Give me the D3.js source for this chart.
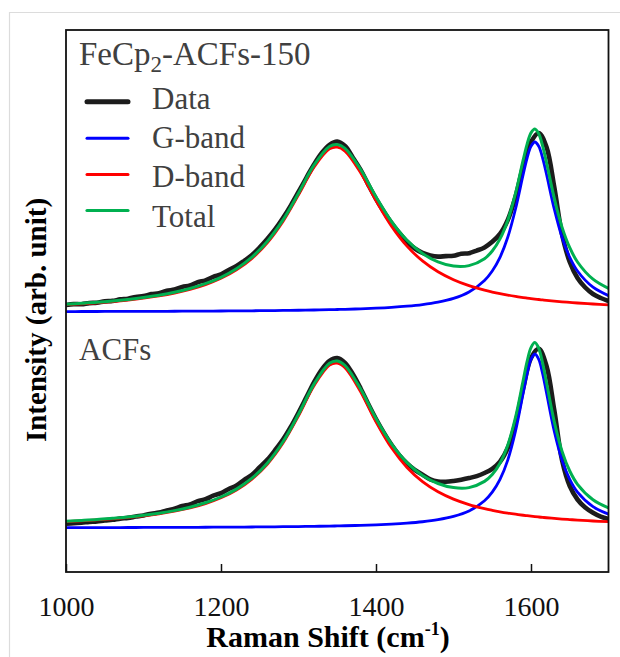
<!DOCTYPE html>
<html>
<head>
<meta charset="utf-8">
<script src="https://cdn.jsdelivr.net/npm/d3@7"></script>
<style>
  html,body{margin:0;padding:0;background:#fff;}
  svg{display:block;font-family:"Liberation Serif","Times New Roman",serif;}
</style>
</head>
<body>
<div id="chart"></div>
<script>
// Raman spectra, FeCp2-ACFs-150 (top, offset) vs ACFs (bottom), with Lorentzian D/G fits

// x grid of the measured spectra (cm-1)
const X_DATA = [1000,1010,1020,1030,1040,1050,1060,1070,1080,1090,1100,1110,1120,1130,1140,1150,1160,1170,1180,1190,
  1200,1210,1220,1230,1240,1250,1260,1270,1280,1290,1300,1310,1320,1330,1340,1350,1360,1370,1380,1390,
  1400,1410,1420,1430,1440,1450,1460,1470,1480,1490,1500,1510,1520,1530,1540,1550,1560,1570,1580,1590,
  1600,1610,1620,1630,1640,1650,1660,1670,1680,1690,1700];
// x grid of the fitted curves (cm-1)
const X_FIT = [1000,1020,1040,1060,1080,1100,1120,1140,1160,1180,1200,1220,1240,1260,1280,1300,1320,1340,1350,1360,
  1380,1400,1420,1440,1460,1480,1500,1520,1540,1550,1560,1570,1580,1590,1595,1600,1605,1610,1615,1620,
  1630,1640,1650,1660,1680,1700];

// ACFs (bottom)
const ACF_DATA = [4.3,4.9,5.3,6.1,6.6,7.6,8.2,9.4,10.1,11.4,12.6,14.3,15.4,17.6,19.3,22.0,23.6,26.9,28.8,32.3,
  34.8,39.0,42.6,48.1,53.2,60.8,68.4,78.0,88.4,101.0,115.3,130.4,145.6,158.4,167.1,170.0,165.2,154.0,139.8,124.0,
  109.0,95.4,83.2,72.8,64.6,58.1,53.4,48.6,46.5,46.2,47.0,48.3,49.9,51.9,55.0,59.2,66.3,80.0,105.0,140.0,
  170.0,179.2,162.0,118.0,68.0,42.0,28.5,20.4,15.2,11.3,9.0];
const ACF_G = [0.37,0.40,0.43,0.46,0.49,0.53,0.58,0.63,0.69,0.75,0.83,0.92,1.02,1.14,1.28,1.45,1.66,1.92,2.07,2.24,
  2.65,3.19,3.90,4.87,6.25,8.31,11.55,17.0,27.2,35.8,48.6,67.9,96.8,135.2,154.3,168.6,174.0,168.6,154.3,135.2,
  96.8,67.9,48.6,35.8,21.3,13.9];
const ACF_D = [6.42,7.19,8.10,9.20,10.54,12.18,14.21,16.79,20.09,24.41,30.16,37.98,48.82,63.95,84.89,112.2,142.2,162.9,164.9,160.3,
  136.5,106.3,80.18,60.50,46.35,36.22,28.87,23.44,19.36,17.69,16.22,14.92,13.77,12.74,12.27,11.82,11.40,10.99,10.61,10.25,
  9.58,8.97,8.41,7.91,7.02,6.28];
const ACF_TOTAL = [6.8,7.6,8.5,9.7,11.0,12.7,14.8,17.4,20.8,25.2,31.0,38.9,49.8,65.1,86.2,113.7,143.9,164.8,167.0,162.5,
  139.2,109.5,84.1,65.4,52.6,44.5,40.4,40.4,46.6,53.5,64.8,82.8,110.6,147.9,166.6,180.4,185.4,179.6,164.9,145.5,
  106.4,76.9,57.0,43.7,28.3,20.2];

// FeCp2-ACFs-150 (top)
const FE_DATA = [7.0,7.9,7.8,8.9,9.3,10.6,11.1,12.6,13.3,15.1,15.9,17.9,18.8,21.2,22.5,25.0,26.5,29.8,31.6,35.2,
  37.6,42.0,45.9,51.2,57.0,64.6,73.2,82.8,94.0,106.4,120.0,134.0,147.5,159.0,167.2,170.4,166.0,154.6,142.3,127.4,
  113.2,100.6,89.0,79.1,70.3,63.5,59.2,56.6,55.4,55.9,56.2,58.3,58.8,61.4,64.6,70.2,78.0,92.0,115.0,146.0,
  170.0,179.0,165.0,125.0,78.0,50.0,34.0,24.5,18.0,14.0,11.0];
const FE_G = [0.45,0.48,0.51,0.55,0.59,0.64,0.69,0.75,0.82,0.90,0.99,1.10,1.22,1.36,1.53,1.74,1.99,2.30,2.48,2.68,
  3.17,3.80,4.64,5.80,7.43,9.85,13.6,20.0,31.5,41.0,54.7,74.7,103.0,137.8,154.0,165.7,170.0,165.7,154.0,137.8,
  103.0,74.7,54.7,41.0,24.8,16.4];
const FE_D = [7.32,8.20,9.23,10.48,11.98,13.83,16.11,18.99,22.66,27.42,33.71,42.17,53.68,69.42,90.56,117.1,144.8,163.1,164.9,160.9,
  139.6,111.4,85.87,65.88,51.08,40.26,32.31,26.36,21.84,19.99,18.35,16.90,15.61,14.46,13.92,13.43,12.95,12.50,12.07,11.66,
  10.90,10.21,9.59,9.01,8.01,7.16];
const FE_TOTAL = [7.8,8.7,9.7,11.0,12.6,14.5,16.8,19.7,23.5,28.3,34.7,43.3,54.9,70.8,92.1,118.8,146.8,165.4,167.4,163.6,
  142.8,115.2,90.5,71.7,58.5,50.1,45.9,46.4,53.3,61.0,73.1,91.6,118.6,152.3,167.9,179.1,183.0,178.2,166.1,149.5,
  113.9,84.9,64.3,50.0,32.8,23.6];
const FE_OFFSET = 216;   // vertical stacking offset of the top spectrum

const X_TICKS = [1000,1200,1400,1600];
const LEGEND = [
  {name:'Data',   color:'#1c1c1c', w:5},
  {name:'G-band', color:'#0000ff', w:3},
  {name:'D-band', color:'#ff0000', w:3},
  {name:'Total',  color:'#00b050', w:3.2}
];

const W = 620, H = 657;
const m = {l:66, r:11.5, t:30, b:85};
const svg = d3.select('#chart').append('svg').attr('width',W).attr('height',H);

// light outer border of the original figure
svg.append('path').attr('d',`M9.5,${H} V12.5 H${W}`).attr('fill','none').attr('stroke','#dcdcdc').attr('stroke-width',1.2);

const x = d3.scaleLinear().domain([1000,1700]).range([m.l, W-m.r]);
const y = d3.scaleLinear().domain([-44,498]).range([H-m.b, m.t]);

const line = (xs, off) => d3.line().x((d,i)=>x(xs[i])).y(d=>y(d+off)).curve(d3.curveCatmullRom.alpha(0.5));

const series = [
  {xs:X_DATA, v:ACF_DATA, off:0, col:LEGEND[0].color, w:4.6},
  {xs:X_DATA, v:FE_DATA, off:FE_OFFSET, col:LEGEND[0].color, w:4.6},
  {xs:X_FIT, v:ACF_G, off:0, col:LEGEND[1].color, w:2.8},
  {xs:X_FIT, v:FE_G, off:FE_OFFSET, col:LEGEND[1].color, w:2.8},
  {xs:X_FIT, v:ACF_D, off:0, col:LEGEND[2].color, w:2.8},
  {xs:X_FIT, v:FE_D, off:FE_OFFSET, col:LEGEND[2].color, w:2.8},
  {xs:X_FIT, v:ACF_TOTAL, off:0, col:LEGEND[3].color, w:3},
  {xs:X_FIT, v:FE_TOTAL, off:FE_OFFSET, col:LEGEND[3].color, w:3}
];
svg.append('clipPath').attr('id','plotclip').append('rect')
  .attr('x',m.l).attr('y',m.t).attr('width',W-m.r-m.l).attr('height',H-m.b-m.t);
const plot = svg.append('g').attr('clip-path','url(#plotclip)');
series.forEach(s=>{
  plot.append('path').datum(s.v).attr('d',line(s.xs,s.off)).attr('fill','none')
    .attr('stroke',s.col).attr('stroke-width',s.w).attr('stroke-linejoin','round');
});

// frame + inward ticks on the bottom axis
svg.append('rect').attr('x',m.l).attr('y',m.t).attr('width',W-m.r-m.l).attr('height',H-m.b-m.t)
  .attr('fill','none').attr('stroke','#111').attr('stroke-width',1.8);
const ax = svg.append('g').attr('transform',`translate(0,${H-m.b})`)
  .call(d3.axisBottom(x).tickValues(X_TICKS).tickSizeInner(-8).tickSizeOuter(0).tickPadding(16).tickFormat(d3.format('d')));
ax.select('.domain').remove();
ax.attr('font-family',null);
ax.selectAll('line').attr('stroke','#111').attr('stroke-width',1.5);
ax.selectAll('text').attr('font-size',28).attr('fill','#111').attr('dy',null).attr('y',44);

// axis titles
const xt = svg.append('text').attr('x',328).attr('y',647).attr('text-anchor','middle')
  .attr('font-size',30).attr('font-weight','bold').attr('fill','#000');
xt.append('tspan').text('Raman Shift (cm');
xt.append('tspan').attr('font-size',18).attr('dy',-12).text('-1');
xt.append('tspan').attr('dy',12).text(')');
svg.append('text').attr('transform','translate(46,320) rotate(-90)').attr('text-anchor','middle')
  .attr('font-size',29).attr('font-weight','bold').attr('fill','#000').text('Intensity (arb. unit)');

// sample labels
const ft = svg.append('text').attr('x',79).attr('y',65).attr('font-size',33).attr('fill','#404040');
ft.append('tspan').text('FeCp');
ft.append('tspan').attr('font-size',23).attr('dy',7).text('2');
ft.append('tspan').attr('dy',-7).text('-ACFs-150');
svg.append('text').attr('x',79).attr('y',360).attr('font-size',31).attr('fill','#404040').text('ACFs');

// legend
const LEG_LINE_Y = [101.7,138.3,174.5,210.5];
const LEG_TEXT_Y = [109.3,148.3,186.8,227];
LEGEND.forEach((d,i)=>{
  svg.append('line').attr('x1',87).attr('x2',128).attr('y1',LEG_LINE_Y[i]).attr('y2',LEG_LINE_Y[i])
    .attr('stroke',d.color).attr('stroke-width',d.w).attr('stroke-linecap','round');
  svg.append('text').attr('x',152).attr('y',LEG_TEXT_Y[i]).attr('font-size',31).attr('fill','#404040').text(d.name);
});
</script>
</body>
</html>
